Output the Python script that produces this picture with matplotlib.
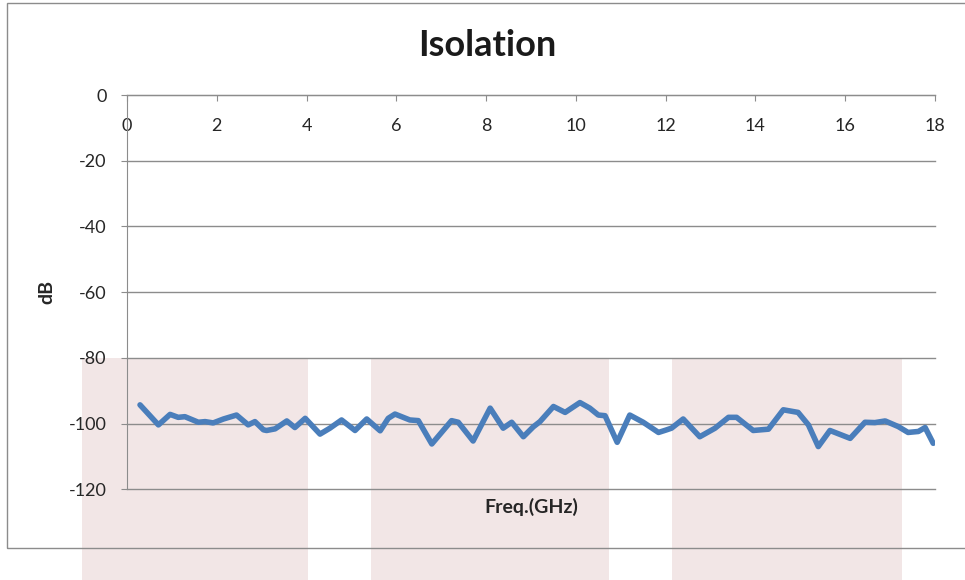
import matplotlib.pyplot as plt
from matplotlib.patches import Rectangle

# frequency (GHz) and isolation (dB)
freq = [0.29, 0.70, 0.96, 1.14, 1.29, 1.59, 1.74, 1.92, 2.15, 2.44, 2.70, 2.85,
        3.04, 3.11, 3.30, 3.56, 3.74, 3.97, 4.30, 4.52, 4.78, 5.08, 5.34, 5.64,
        5.82, 5.97, 6.30, 6.49, 6.79, 7.23, 7.38, 7.71, 8.09, 8.38, 8.57, 8.83,
        9.05, 9.20, 9.50, 9.76, 10.09, 10.31, 10.50, 10.65, 10.92, 11.20, 11.50,
        11.84, 12.00, 12.13, 12.39, 12.76, 13.10, 13.40, 13.58, 13.95, 14.29,
        14.62, 14.95, 15.18, 15.40, 15.66, 16.11, 16.44, 16.66, 16.89, 17.18,
        17.40, 17.63, 17.78, 17.96]
isolation = [-94.3, -100.4, -97.2, -98.1, -97.9, -99.6, -99.4, -99.8, -98.6, -97.4,
             -100.4, -99.4, -101.9, -102.1, -101.6, -99.2, -101.2, -98.4, -103.2,
             -101.4, -98.9, -102.1, -98.6, -102.2, -98.4, -97.1, -98.9, -99.1,
             -106.2, -99.1, -99.6, -105.3, -95.3, -101.4, -99.6, -104.0, -101.0,
             -99.4, -94.8, -96.6, -93.6, -95.3, -97.4, -97.6, -105.7, -97.4, -99.6,
             -102.7, -102.0, -101.4, -98.6, -104.0, -101.4, -98.1, -98.1, -102.1,
             -101.7, -95.8, -96.6, -100.4, -107.0, -102.1, -104.5, -99.6, -99.7,
             -99.2, -100.9, -102.7, -102.4, -101.2, -106.0]

x_ticks = [0, 2, 4, 6, 8, 10, 12, 14, 16, 18]
y_ticks = [0, -20, -40, -60, -80, -100, -120]

plt.rcParams['font.family'] = ['Lato', 'DejaVu Sans']
plt.rcParams['axes.unicode_minus'] = False

W, H = 965, 580
fig = plt.figure(figsize=(W / 100, H / 100), dpi=100)
fig.patch.set_facecolor('white')

# 背景粉色色块（页面装饰）
for x0, x1 in [(82, 308), (371, 609), (672, 902)]:
    fig.patches.append(Rectangle((x0 / W, 0), (x1 - x0) / W, (H - 358) / H,
                                 transform=fig.transFigure, facecolor='#f2e6e6',
                                 edgecolor='none', zorder=-2))
# 图表外框
fig.patches.append(Rectangle((6.5 / W, (H - 548) / H), 1.2, (548 - 3) / H,
                             transform=fig.transFigure, facecolor='none',
                             edgecolor='#8c8c8c', linewidth=1.0, zorder=-1))

ax = fig.add_axes([127 / W, (H - 489.3) / H, 808 / W, 394.3 / H])
ax.set_facecolor('none')

ax.plot(freq, isolation, color='#4a7ebb', linewidth=4.0,
        solid_joinstyle='round', solid_capstyle='round', zorder=3)

ax.set_xlim(0, 18)
ax.set_ylim(-120, 0)
ax.set_xticks(x_ticks)
ax.set_yticks(y_ticks)

grey = '#8c8c8c'
ax.grid(axis='y', color=grey, linewidth=1.0)
for gl in ax.get_ygridlines():
    gl.set_clip_on(False)
ax.set_axisbelow(True)
ax.spines['top'].set_visible(False)
ax.spines['right'].set_visible(False)
ax.spines['bottom'].set_position(('data', 0))
ax.spines['bottom'].set_color(grey)
ax.spines['left'].set_color(grey)
ax.tick_params(axis='both', direction='out', length=4.5, color=grey,
               labelsize=13, labelcolor='#262626')
ax.tick_params(axis='x', pad=12)
ax.tick_params(axis='y', pad=10)

fig.text(487 / W, 1 - 45 / H, 'Isolation', fontsize=26, fontweight='bold',
         color='#1a1a1a', ha='center', va='center')
ax.set_xlabel('Freq.(GHz)', fontsize=14, fontweight='bold', color='#262626')
ax.xaxis.set_label_coords(0.5, -0.022)
ax.set_ylabel('dB', fontsize=14, fontweight='bold', color='#262626', va='center')
ax.yaxis.set_label_coords(-0.099, 0.5)

plt.savefig('out.png', dpi=100)
